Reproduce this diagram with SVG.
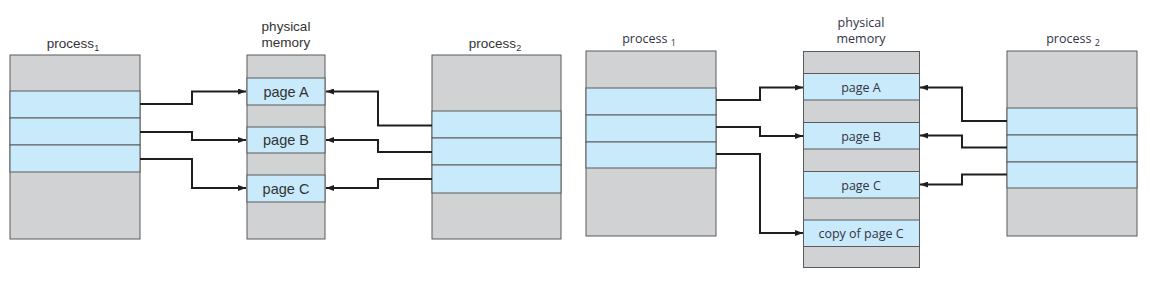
<svg xmlns="http://www.w3.org/2000/svg" width="1150" height="289" viewBox="0 0 1150 289">
<defs>
<style>
.g{fill:#d1d2d4;stroke:#5a5a5a;stroke-width:1}
.b{fill:#c8eafb;stroke:#5a5a5a;stroke-width:1}
.t1{font-family:"Liberation Sans",Arial,sans-serif;font-size:13.5px;fill:#333;text-anchor:middle}
.p1{font-family:"Liberation Sans",Arial,sans-serif;font-size:14.5px;fill:#333;text-anchor:middle}
.t2{font-family:"Open Sans","Noto Sans",sans-serif;font-size:12.5px;fill:#333344;text-anchor:middle}
.p2{font-family:"Open Sans","Noto Sans",sans-serif;font-size:12.5px;fill:#333344;text-anchor:middle}
.s{font-size:9px}
.c{fill:none;stroke:#1e1e1e;stroke-width:2;marker-end:url(#ah)}
</style>
<marker id="ah" viewBox="0 0 8 6" refX="8" refY="3" markerWidth="8" markerHeight="6" markerUnits="userSpaceOnUse" orient="auto">
<path d="M0,0 L8,3 L0,6 Z" fill="#1e1e1e"/>
</marker>
</defs>
<rect width="1150" height="289" fill="#ffffff"/>

<!-- Left panel -->
<g id="l-process1">
<text class="t1" x="73" y="48">process<tspan class="s" dy="3">1</tspan></text>
<rect class="g" x="10" y="55" width="130" height="184"/>
<rect class="b" x="10" y="91" width="130" height="27"/>
<rect class="b" x="10" y="118" width="130" height="27"/>
<rect class="b" x="10" y="145" width="130" height="27"/>
</g>
<g id="l-memory">
<text class="t1" x="286" y="31">physical</text>
<text class="t1" x="286" y="47">memory</text>
<rect class="g" x="247" y="55" width="78" height="184"/>
<rect class="b" x="247" y="78" width="78" height="27"/>
<rect class="b" x="247" y="127" width="78" height="26"/>
<rect class="b" x="247" y="175" width="78" height="27"/>
<text class="p1" x="286" y="97">page A</text>
<text class="p1" x="286" y="145">page B</text>
<text class="p1" x="286" y="194">page C</text>
</g>
<g id="l-process2">
<text class="t1" x="495" y="48">process<tspan class="s" dy="3">2</tspan></text>
<rect class="g" x="432" y="55" width="129" height="184"/>
<rect class="b" x="432" y="111" width="129" height="27"/>
<rect class="b" x="432" y="138" width="129" height="27"/>
<rect class="b" x="432" y="165" width="129" height="28"/>
</g>

<!-- Right panel -->
<g id="r-process1">
<text class="t2" x="649" y="43">process <tspan class="s" dy="3">1</tspan></text>
<rect class="g" x="586" y="51" width="130" height="185"/>
<rect class="b" x="586" y="88" width="130" height="27"/>
<rect class="b" x="586" y="115" width="130" height="27"/>
<rect class="b" x="586" y="142" width="130" height="26"/>
</g>
<g id="r-memory">
<text class="t2" x="861" y="27">physical</text>
<text class="t2" x="861" y="43">memory</text>
<rect class="g" x="803.5" y="51.5" width="116" height="216"/>
<rect class="b" x="803.5" y="73.5" width="116" height="26.5"/>
<rect class="b" x="803.5" y="122.5" width="116" height="26.5"/>
<rect class="b" x="803.5" y="171.5" width="116" height="26.5"/>
<rect class="b" x="803.5" y="220" width="116" height="26.5"/>
<text class="p2" x="861" y="91.5">page A</text>
<text class="p2" x="861" y="140.5">page B</text>
<text class="p2" x="861" y="189.5">page C</text>
<text class="p2" x="861" y="238">copy of page C</text>
</g>
<g id="r-process2">
<text class="t2" x="1073" y="43">process <tspan class="s" dy="3">2</tspan></text>
<rect class="g" x="1007" y="51" width="130" height="185"/>
<rect class="b" x="1007" y="108" width="130" height="27"/>
<rect class="b" x="1007" y="135" width="130" height="27"/>
<rect class="b" x="1007" y="162" width="130" height="26"/>
</g>

<g id="connectors">
<path class="c" d="M140,104 H192 V91.5 H246"/>
<path class="c" d="M140,132 H192 V140 H246"/>
<path class="c" d="M140,159 H192 V188 H246"/>
<path class="c" d="M432,125.5 H378 V91.5 H326"/>
<path class="c" d="M432,152 H378 V140 H326"/>
<path class="c" d="M432,179 H378 V188 H326"/>
<path class="c" d="M716,100 H760 V87.5 H803"/>
<path class="c" d="M716,127 H760 V136 H803"/>
<path class="c" d="M716,154 H760 V233 H803"/>
<path class="c" d="M1007,121 H962 V87.5 H920"/>
<path class="c" d="M1007,147.5 H962 V135.5 H920"/>
<path class="c" d="M1007,174.5 H962 V184.5 H920"/>
</g>
</svg>
